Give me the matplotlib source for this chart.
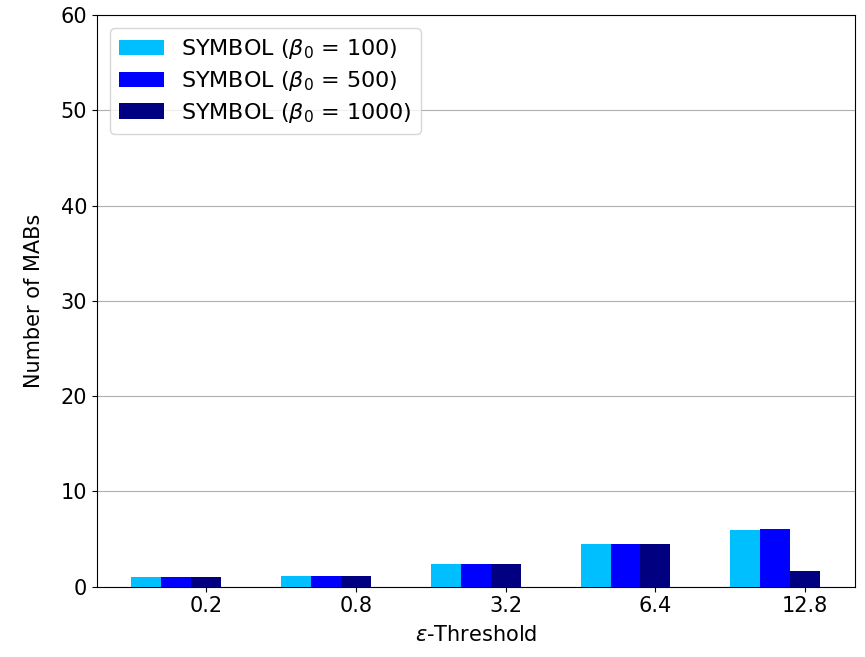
import matplotlib
matplotlib.use('Agg')
import matplotlib.pyplot as plt
import numpy as np

thresholds = ['0.2', '0.8', '3.2', '6.4', '12.8']
beta_100 = [1.0, 1.1, 2.4, 4.5, 5.98]
beta_500 = [1.0, 1.1, 2.4, 4.5, 6.05]
beta_1000 = [1.0, 1.1, 2.35, 4.45, 1.7]
labels = [r'SYMBOL ($\beta_0$ = 100)', r'SYMBOL ($\beta_0$ = 500)', r'SYMBOL ($\beta_0$ = 1000)']
colors = ['deepskyblue', 'blue', 'navy']

plt.rcParams['font.size'] = 15
fig = plt.figure(figsize=(8.65, 6.57), dpi=100)
ax = fig.add_axes([0.112, 0.107, 0.876, 0.87])

x = np.arange(len(thresholds))
w = 0.2
for i, (vals, lab, c) in enumerate(zip([beta_100, beta_500, beta_1000], labels, colors)):
    ax.bar(x + i * w, vals, w, label=lab, color=c, zorder=3)

ax.set_xticks(x + 2 * w)
ax.set_xticklabels(thresholds)
ax.set_ylim(0, 60)
ax.set_yticks(range(0, 61, 10))
ax.yaxis.grid(True, color='#b0b0b0', zorder=0)
ax.set_axisbelow(True)
ax.set_xlabel(r'$\epsilon$-Threshold', labelpad=6)
ax.set_ylabel('Number of MABs', labelpad=12)
ax.legend(loc='upper left', fontsize=16, labelspacing=0.35, borderaxespad=0.6)

fig.savefig('out.png', dpi=100)
